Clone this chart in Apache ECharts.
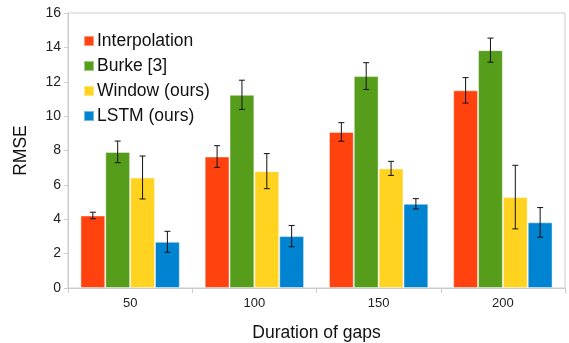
<!DOCTYPE html>
<html>
<head>
<meta charset="utf-8">
<script src="https://cdn.jsdelivr.net/npm/echarts@6/dist/echarts.min.js"></script>
<style>
html, body { margin: 0; padding: 0; background: #fff; }
#chart { width: 569px; height: 343px; }
</style>
</head>
<body>
<div id="chart"></div>
<script>
var categories = ['50', '100', '150', '200'];
var seriesNames = ['Interpolation', 'Burke [3]', 'Window (ours)', 'LSTM (ours)'];
var colors = ['#ff420e', '#579d1c', '#ffd320', '#0084d1'];

// mean RMSE per gap duration
var interpolation = [4.22, 7.65, 9.08, 11.50];
var burke = [7.92, 11.24, 12.33, 13.84];
var windowOurs = [6.43, 6.80, 6.96, 5.29];
var lstmOurs = [2.69, 3.02, 4.90, 3.82];

// half-width of error bars
var interpolationErr = [0.19, 0.63, 0.54, 0.74];
var burkeErr = [0.63, 0.85, 0.78, 0.70];
var windowErr = [1.25, 1.02, 0.41, 1.85];
var lstmErr = [0.61, 0.62, 0.30, 0.86];

var values = [interpolation, burke, windowOurs, lstmOurs];
var errors = [interpolationErr, burkeErr, windowErr, lstmErr];

var font = '"Liberation Sans", Arial, sans-serif';

// error bar items: [category index, low, high, series index]
var errData = [];
for (var s = 0; s < values.length; s++) {
    for (var c = 0; c < categories.length; c++) {
        errData.push([c, values[s][c] - errors[s][c], values[s][c] + errors[s][c], s]);
    }
}

var series = [];
for (var i = 0; i < seriesNames.length; i++) {
    series.push({
        name: seriesNames[i],
        type: 'bar',
        data: values[i],
        barGap: '0%',
        barCategoryGap: '20%',
        itemStyle: {
            color: colors[i],
            borderColor: 'rgba(255,255,255,0.45)',
            borderWidth: 1
        }
    });
}

series.push({
    type: 'custom',
    data: errData,
    z: 10,
    silent: true,
    encode: { x: 0, y: [1, 2] },
    renderItem: function (params, api) {
        var cat = api.value(0);
        var idx = api.value(3);
        var lowPt = api.coord([cat, api.value(1)]);
        var highPt = api.coord([cat, api.value(2)]);
        var band = api.size([1, 0])[0];
        var barW = band * 0.8 / 4;
        var x = lowPt[0] - band * 0.4 + barW * (idx + 0.5);
        var cap = 3;
        var style = { stroke: '#111', lineWidth: 1 };
        return {
            type: 'group',
            children: [
                { type: 'line', shape: { x1: x, y1: lowPt[1], x2: x, y2: highPt[1] }, style: style },
                { type: 'line', shape: { x1: x - cap, y1: lowPt[1], x2: x + cap, y2: lowPt[1] }, style: style },
                { type: 'line', shape: { x1: x - cap, y1: highPt[1], x2: x + cap, y2: highPt[1] }, style: style }
            ]
        };
    }
});

var chart = echarts.init(document.getElementById('chart'));
chart.setOption({
    animation: false,
    backgroundColor: '#fff',
    textStyle: { fontFamily: font },
    grid: {
        left: 68, right: 4, top: 13, bottom: 55,
        outerBoundsMode: 'none',
        show: true, borderColor: '#cccccc', borderWidth: 1
    },
    legend: {
        data: seriesNames,
        orient: 'vertical',
        left: 78,
        top: 27,
        itemWidth: 10,
        itemHeight: 10,
        itemGap: 7,
        icon: 'rect',
        textStyle: { fontSize: 17.5, color: '#111', fontFamily: font, padding: [0, 0, 0, -2] }
    },
    xAxis: {
        type: 'category',
        data: categories,
        name: 'Duration of gaps',
        nameLocation: 'middle',
        nameGap: 36,
        nameTextStyle: { fontSize: 17.5, color: '#111', fontFamily: font },
        axisLine: { lineStyle: { color: '#cccccc' } },
        axisTick: { show: true, length: 5, lineStyle: { color: '#cccccc' } },
        axisLabel: { fontSize: 13, color: '#222', margin: 9 },
        splitLine: { show: false }
    },
    yAxis: {
        type: 'value',
        min: 0,
        max: 16,
        interval: 2,
        name: 'RMSE',
        nameLocation: 'middle',
        nameGap: 38,
        nameTextStyle: { fontSize: 17.5, color: '#111', fontFamily: font },
        axisLine: { show: true, lineStyle: { color: '#cccccc' } },
        axisTick: { show: true, length: 4, lineStyle: { color: '#cccccc' } },
        axisLabel: { fontSize: 14, color: '#222', margin: 7 },
        splitLine: { show: false }
    },
    series: series
});
</script>
</body>
</html>
